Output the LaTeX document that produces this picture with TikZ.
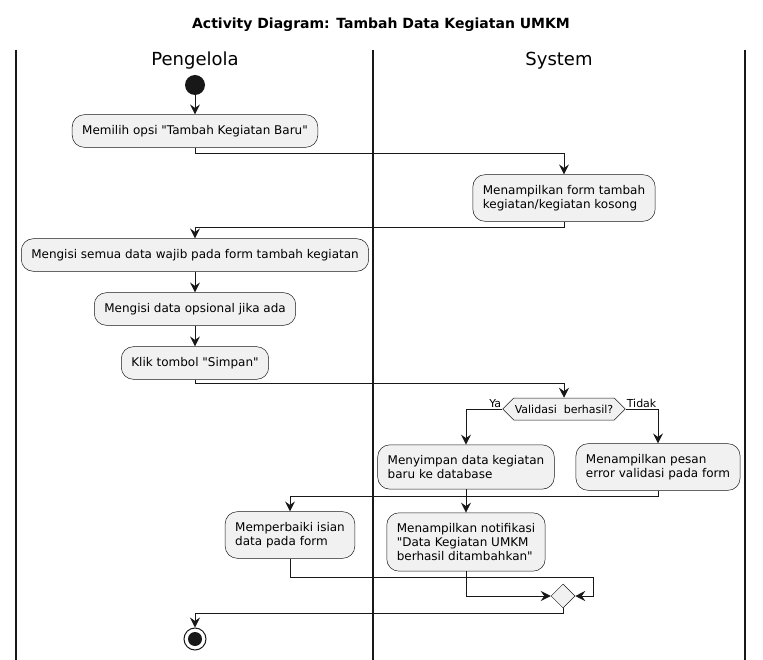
\documentclass[tikz,border=0pt]{standalone}
\usepackage{fontspec}
\setmainfont{DejaVu Sans}
\usetikzlibrary{shapes.geometric,shapes.symbols,arrows.meta}
\definecolor{garis}{HTML}{181818}
\definecolor{isi}{HTML}{F1F1F1}
\newcommand{\qt}{\textquotedbl}

\begin{document}
\begin{tikzpicture}[x=1pt,y=-1pt]
	\tikzstyle{Action} = [rectangle, rounded corners=12pt, draw=garis, fill=isi, line width=0.5pt, inner xsep=10pt, inner ysep=10.5pt, align=left, font=\fontsize{12}{14}\selectfont]
	\tikzstyle{Flow} = [draw=garis, line width=1pt, -{Stealth[length=10pt, width=10pt, inset=3.5pt]}]
	\tikzstyle{Lane} = [draw=garis, line width=1.5pt]
	\tikzstyle{Small} = [font=\fontsize{11}{13}\selectfont, inner sep=1pt]
	\useasboundingbox (0,0) rectangle (763,660);
	\node (title) at (381,25) [font=\fontsize{14}{16}\selectfont\bfseries] {Activity Diagram: Tambah Data Kegiatan UMKM};
	% swimlanes
	\draw [Lane] (16,50) -- (16,660);
	\draw [Lane] (373,50) -- (373,660);
	\draw [Lane] (745,50) -- (745,660);
	\node (pengelola) at (195,61) [font=\fontsize{18}{20}\selectfont] {Pengelola};
	\node (system) at (559,61) [font=\fontsize{18}{20}\selectfont] {System};
	% nodes
	\node (start) at (195,85) [circle, fill=garis, minimum size=20pt, inner sep=0pt] {};
	\node (pilih) at (195,131) [Action] {Memilih opsi \qt Tambah Kegiatan Baru\qt};
	\node (form) at (564,198) [Action] {Menampilkan form tambah\\kegiatan/kegiatan kosong};
	\node (wajib) at (195,255) [Action] {Mengisi semua data wajib pada form tambah kegiatan};
	\node (opsional) at (195,309) [Action] {Mengisi data opsional jika ada};
	\node (klik) at (195,363) [Action] {Klik tombol \qt Simpan\qt};
	\node (cek) at (564,409) [signal, signal to=west and east, draw=garis, fill=isi, line width=0.5pt, minimum height=22pt, inner xsep=1pt, inner ysep=2pt, font=\fontsize{11}{13}\selectfont] {Validasi~ berhasil?};
	\node (ya) at (cek.west) [Small, anchor=south east] {Ya};
	\node (tidak) at (cek.east) [Small, anchor=south west] {Tidak};
	\node (simpan) at (466,467) [Action] {Menyimpan data kegiatan\\baru ke database};
	\node (gagal) at (658,467) [Action] {Menampilkan pesan\\error validasi pada form};
	\node (perbaiki) at (290,535) [Action] {Memperbaiki isian\\data pada form};
	\node (notif) at (466,542) [Action] {Menampilkan notifikasi\\\qt Data Kegiatan UMKM\\berhasil ditambahkan\qt};
	\node (gabung) at (563,596) [diamond, draw=garis, fill=isi, line width=0.5pt, minimum size=24pt, inner sep=0pt] {};
	\coordinate (kanan) at (593,577);
	\node (stop) at (195,639) [circle, draw=garis, line width=1pt, minimum size=22pt, inner sep=0pt, path picture={\fill [garis] (path picture bounding box.center) circle (7pt);}] {};
	% connectors
	\draw [Flow] (start) -- (pilih);
	\draw [Flow] (pilih.south) -- ++(0,6) -| (form.north);
	\draw [Flow] (form.south) -- ++(0,6) -| (wajib.north);
	\draw [Flow] (wajib) -- (opsional);
	\draw [Flow] (opsional) -- (klik);
	\draw [Flow] (klik.south) -- ++(0,4) -| (cek.north);
	\draw [Flow] (cek.west) -| (simpan.north);
	\draw [Flow] (cek.east) -| (gagal.north);
	\draw [Flow] (gagal.south) -- ++(0,6) -| (perbaiki.north);
	\draw [Flow] (simpan) -- (notif);
	\draw [Flow] (notif.south) |- (gabung.west);
	\draw [Flow] (perbaiki.south) |- (kanan) |- (gabung.east);
	\draw [Flow] (gabung.south) -- ++(0,5) -| (stop.north);
\end{tikzpicture}
\end{document}
